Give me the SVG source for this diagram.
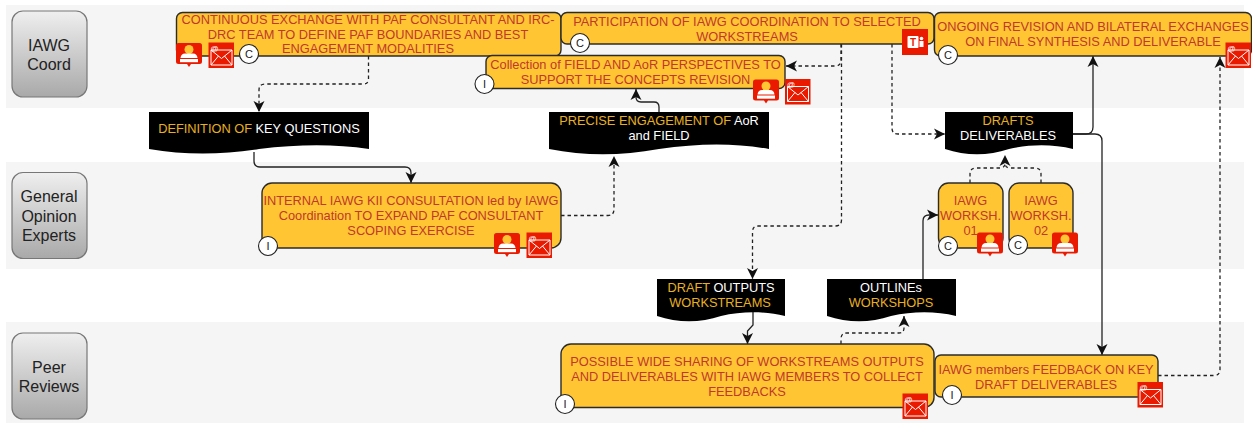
<svg xmlns="http://www.w3.org/2000/svg" width="1252" height="423" viewBox="0 0 1252 423">
<style>
text{font-family:"Liberation Sans",Arial,sans-serif;text-anchor:middle}
.band{fill:#f5f5f5}
.lane{fill:url(#laneGrad);stroke:#777;stroke-width:1.2}
.laneT{font-size:16px;fill:#222}
.box{fill:#ffc533;stroke:#2b2b2b;stroke-width:1.4}
.t{font-size:12.8px;fill:#c0392b}
.doc{fill:#000}
.d{font-size:12.8px;fill:#fff}
.g{fill:#e8b020}
.badge{fill:#fff;stroke:#222;stroke-width:1.1}
.bt{font-size:11px;fill:#222}
.s{fill:none;stroke:#222;stroke-width:1.3;marker-end:url(#arrow)}
.n{fill:none;stroke:#222;stroke-width:1.3}
.da{stroke-dasharray:3.5 3}
.ic{font-size:8px;fill:#fff}
</style>
<defs>
<linearGradient id="laneGrad" x1="0" y1="0" x2="0" y2="1"><stop offset="0" stop-color="#efefef"/><stop offset="1" stop-color="#a9a9a9"/></linearGradient>
<marker id="arrow" viewBox="0 0 12 12" refX="11" refY="6" markerWidth="12" markerHeight="12" markerUnits="userSpaceOnUse" orient="auto"><path d="M0,0.5 L11,6 L0,11.5 L3,6 Z" fill="#111"/></marker>
<g id="person">
<path d="M2.500,0 H23.500 Q26,0 26,2.500 V18.500 Q26,21 23.500,21 H15 L13,24 L11,21 H2.500 Q0,21 0,18.500 V2.500 Q0,0 2.500,0 Z" fill="#ea1a00"/>
<circle cx="13" cy="6.500" r="4.500" fill="#ffc533"/>
<path d="M4.500,15 Q5,10.500 9,10.500 H17 Q21,10.500 21.500,15 Z" fill="#fff"/>
<rect x="4" y="16" width="18" height="3.200" fill="#fff"/>
</g>
<g id="mail">
<rect width="25.500" height="25.500" fill="#ea1a00"/>
<path d="M2.500,7.500 H23.500 V22.500 H2.500 Z M2.500,7.500 L13,16 L23.500,7.500 M2.500,22.500 L10,13.500 M23.500,22.500 L16,13.500" fill="none" stroke="#fff" stroke-width="1"/>
<text class="ic" x="6" y="8">@</text>
</g>
</defs>

<g id="bands">
<rect class="band" x="6" y="5" width="1238" height="103"/>
<rect class="band" x="6" y="162" width="1238" height="107"/>
<rect class="band" x="6" y="322" width="1238" height="101"/>
</g>

<g id="lane-iawg"><rect class="lane" x="12" y="11" width="75" height="86" rx="11"/><text class="laneT" x="49" y="51">IAWG</text><text class="laneT" x="49" y="70">Coord</text></g>
<g id="lane-general"><rect class="lane" x="12" y="172.500" width="75" height="86" rx="11"/><text class="laneT" x="49" y="202">General</text><text class="laneT" x="49" y="222">Opinion</text><text class="laneT" x="49" y="241">Experts</text></g>
<g id="lane-peer"><rect class="lane" x="12" y="333" width="75" height="86" rx="11"/><text class="laneT" x="49" y="373">Peer</text><text class="laneT" x="49" y="392">Reviews</text></g>

<g id="connectors">
<path class="s da" d="M368.500,56 V79 Q368.500,84 363,84 H265 Q259,84 259,90 V112"/>
<path class="s" d="M254,152 V161 Q254,167 260,167 H405 Q411,167 411,173 V183"/>
<path class="s da" d="M561,215.500 H608 Q614,215.500 614,209 V156"/>
<path class="s" d="M659,112 V107 Q659,102 654,102 H641 Q636,102 636,97 V89"/>
<path class="s da" d="M841,44 V60 Q841,66 835,66 H786"/>
<path class="s da" d="M841.500,44 V220 Q841.500,226 835,226 H758 Q752.500,226 752.500,232 V279"/>
<path class="s da" d="M892,44 V128 Q892,134 898,134 H945"/>
<path class="s" d="M1073,134 H1086 Q1093,134 1093,127 V56"/>
<path class="s" d="M1073,134 H1095 Q1102,134 1102,141 V355"/>
<path class="s da" d="M970,183 V174 Q970,168 976,168 H1000 Q1005,168 1005,163 V155"/>
<path class="n da" d="M1041,183 V174 Q1041,168 1035,168 H1010 Q1005,168 1005,163"/>
<path class="s" d="M923,279 V221 Q923,215 929,215 H938"/>
<path class="s da" d="M841,344 V339 Q841,333 847,333 H899 Q904,333 904,328 V316"/>
<path class="s" d="M753,312 V325 L747.500,331 V344"/>
<path class="s da" d="M1158,375.500 H1214 Q1220,375.500 1220,369 V57"/>
</g>

<g id="doc-key"><path class="doc" d="M149,112 H369 V149 C335,144 300,144 259,149 C220,155 185,155 149,149 Z"/><text class="d" x="259" y="133"><tspan class="g">DEFINITION OF </tspan>KEY QUESTIONS</text></g>
<g id="doc-precise"><path class="doc" d="M549,112 H769 V149 C735,143 700,143 659,149 C620,156 585,156 549,149 Z"/><text class="d" x="659" y="125"><tspan class="g">PRECISE ENGAGEMENT OF </tspan>AoR</text><text class="d" x="659" y="140">and FIELD</text></g>
<g id="doc-drafts"><path class="doc" d="M945,112 H1073 V149 C1053,144 1030,144 1009,149 C988,156 966,156 945,149 Z"/><text class="d g" x="1008" y="125">DRAFTS</text><text class="d" x="1008" y="140">DELIVERABLES</text></g>
<g id="doc-outputs"><path class="doc" d="M657,279 H785 V316 C765,311 742,311 721,316 C700,323 678,323 657,316 Z"/><text class="d" x="721" y="292"><tspan class="g">DRAFT </tspan>OUTPUTS</text><text class="d g" x="720" y="307">WORKSTREAMS</text></g>
<g id="doc-outlines"><path class="doc" d="M827,279 H956 V316 C936,311 913,311 891,316 C870,323 848,323 827,316 Z"/><text class="d" x="891" y="292">OUTLINEs</text><text class="d g" x="891" y="307">WORKSHOPS</text></g>

<g id="node-a"><rect class="box" x="176.500" y="12.500" width="384.500" height="43.500" rx="6"/>
<text class="t" x="368" y="24">CONTINUOUS EXCHANGE WITH PAF CONSULTANT AND IRC-</text><text class="t" x="368" y="39">DRC TEAM TO DEFINE PAF BOUNDARIES AND BEST</text><text class="t" x="368" y="53">ENGAGEMENT MODALITIES</text>
<use href="#person" x="176" y="43"/><use href="#mail" x="208.500" y="42.500"/>
<circle class="badge" cx="249" cy="54" r="9.500"/><text class="bt" x="249" y="58">C</text></g>

<g id="node-b"><rect class="box" x="561" y="12.500" width="373" height="31.500" rx="6"/>
<text class="t" x="747" y="26">PARTICIPATION OF IAWG COORDINATION TO SELECTED</text><text class="t" x="747" y="41">WORKSTREAMS</text>
<circle class="badge" cx="580" cy="43" r="9.500"/><text class="bt" x="580" y="47">C</text>
<rect x="902" y="29" width="26" height="26" fill="#ea1a00"/><rect x="907.500" y="36" width="11" height="12" rx="1" fill="#fff"/><text x="913" y="46" font-size="10" font-weight="bold" fill="#ea1a00">T</text><circle cx="921.500" cy="38.500" r="1.800" fill="#fff"/><rect x="919.500" y="41" width="4" height="6" fill="#fff"/></g>

<g id="node-c"><rect class="box" x="934.500" y="12.500" width="317" height="43.500" rx="6"/>
<text class="t" x="1093" y="31">ONGOING REVISION AND BILATERAL EXCHANGES</text><text class="t" x="1093" y="46">ON FINAL SYNTHESIS AND DELIVERABLE</text>
<circle class="badge" cx="948" cy="55" r="9.500"/><text class="bt" x="948" y="59">C</text>
<use href="#mail" x="1225.500" y="42.500"/></g>

<g id="node-d"><rect class="box" x="486" y="55.500" width="299" height="33" rx="6"/>
<text class="t" x="635.500" y="69">Collection of FIELD AND AoR PERSPECTIVES TO</text><text class="t" x="635.500" y="84">SUPPORT THE CONCEPTS REVISION</text>
<circle class="badge" cx="484.500" cy="84" r="9.500"/><text class="bt" x="484.500" y="88">I</text>
<use href="#person" x="753" y="79.500"/><use href="#mail" x="785" y="79"/></g>

<g id="node-e"><rect class="box" x="262" y="183" width="299" height="65" rx="10"/>
<text class="t" x="411" y="205">INTERNAL IAWG KII CONSULTATION led by IAWG</text><text class="t" x="411" y="220">Coordination TO EXPAND PAF CONSULTANT</text><text class="t" x="411" y="235">SCOPING EXERCISE</text>
<circle class="badge" cx="268" cy="246" r="9.500"/><text class="bt" x="268" y="250">I</text>
<use href="#person" x="494" y="233"/><use href="#mail" x="526.500" y="232.500"/></g>

<g id="node-f"><rect class="box" x="938.500" y="183" width="64.500" height="65" rx="10"/>
<text class="t" x="970.500" y="205">IAWG</text><text class="t" x="970.500" y="220">WORKSH.</text><text class="t" x="970.500" y="235">01</text>
<circle class="badge" cx="948" cy="246" r="9.500"/><text class="bt" x="948" y="250">C</text>
<use href="#person" x="977" y="232.500"/></g>

<g id="node-g"><rect class="box" x="1009" y="183" width="64" height="65" rx="10"/>
<text class="t" x="1041" y="205">IAWG</text><text class="t" x="1041" y="220">WORKSH.</text><text class="t" x="1041" y="235">02</text>
<circle class="badge" cx="1018" cy="245" r="9.500"/><text class="bt" x="1018" y="249">C</text>
<use href="#person" x="1052" y="232.500"/></g>

<g id="node-h"><rect class="box" x="561" y="344" width="373" height="63.500" rx="10"/>
<text class="t" x="747" y="366">POSSIBLE WIDE SHARING OF WORKSTREAMS OUTPUTS</text><text class="t" x="747" y="381">AND DELIVERABLES WITH IAWG MEMBERS TO COLLECT</text><text class="t" x="747" y="396">FEEDBACKS</text>
<circle class="badge" cx="565" cy="404" r="9.500"/><text class="bt" x="565" y="408">I</text>
<use href="#mail" x="902.500" y="393.500"/></g>

<g id="node-i"><rect class="box" x="935" y="355" width="223" height="42" rx="6"/>
<text class="t" x="1046" y="374">IAWG members FEEDBACK ON KEY</text><text class="t" x="1046" y="389">DRAFT DELIVERABLES</text>
<circle class="badge" cx="952" cy="395" r="9.500"/><text class="bt" x="952" y="399">I</text>
<use href="#mail" x="1137.500" y="382"/></g>
</svg>
